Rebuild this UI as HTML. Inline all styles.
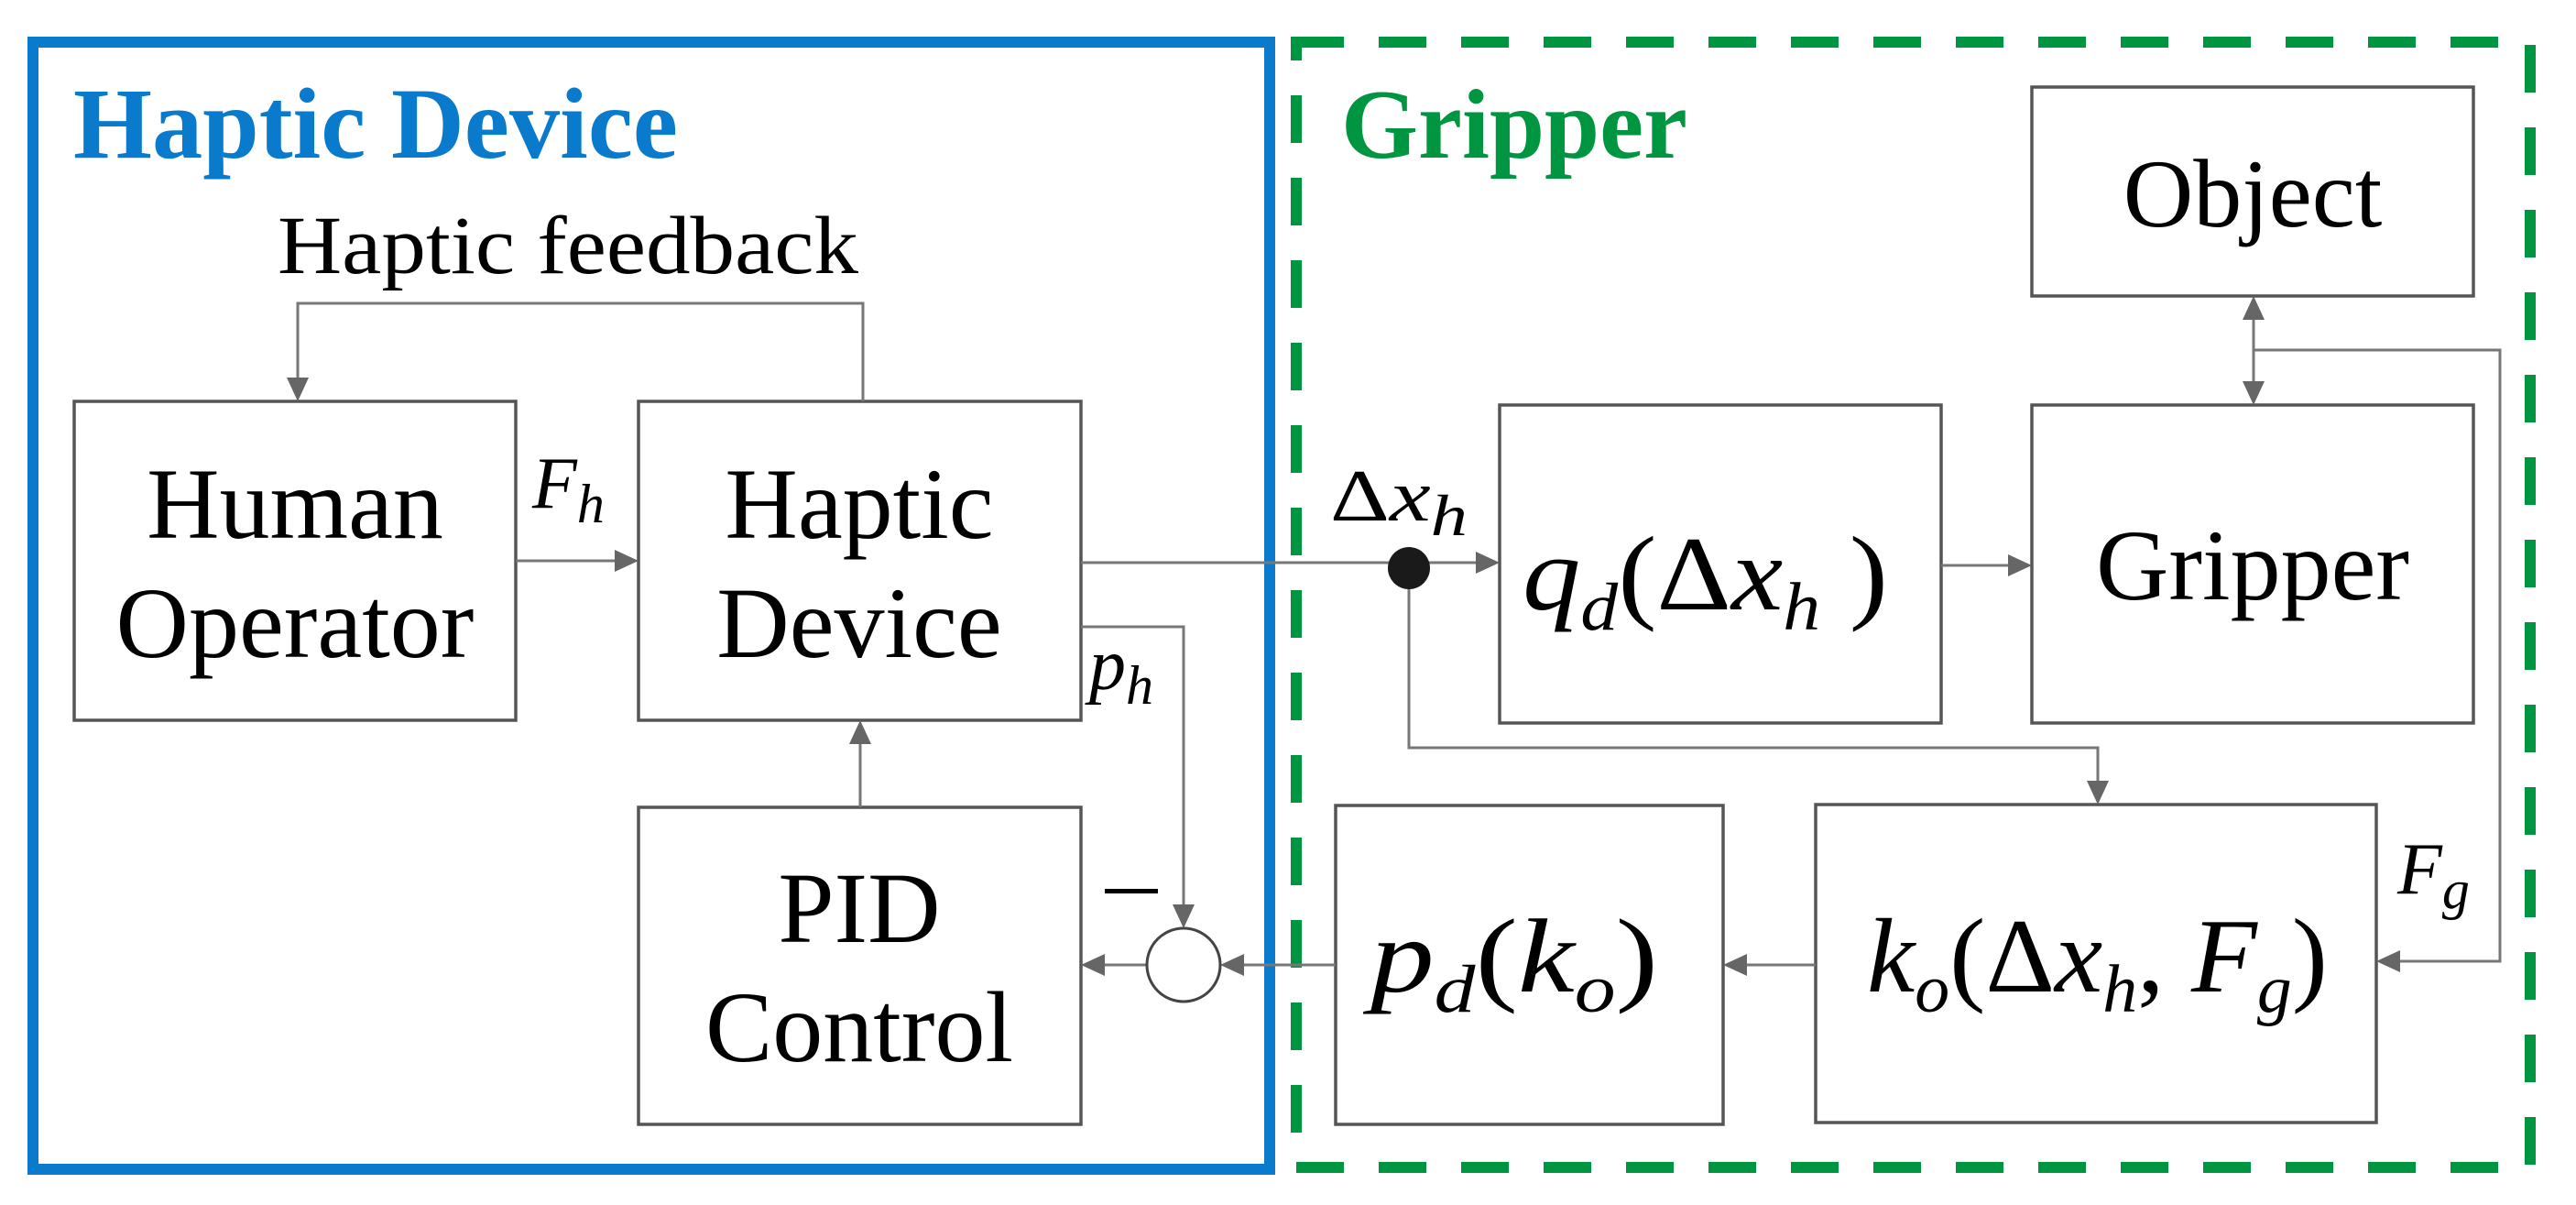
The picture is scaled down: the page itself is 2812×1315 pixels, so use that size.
<!DOCTYPE html>
<html><head><meta charset="utf-8"><style>
html,body{margin:0;padding:0;background:#fff;}
svg{display:block;}
.t{font-family:"Liberation Serif",serif;fill:#000;}
.m{font-family:"Liberation Serif",serif;font-style:italic;fill:#000;}
.b{fill:none;stroke:#555;stroke-width:3.5;}
.l{fill:none;stroke:#777;stroke-width:3;}
</style></head><body>
<svg width="2812" height="1315" viewBox="0 0 2812 1315" xmlns="http://www.w3.org/2000/svg">
<rect width="2812" height="1315" fill="#fff"/>
<rect x="36" y="46" width="1350" height="1230" fill="none" stroke="#0a7bcc" stroke-width="12"/>
<text x="80" y="172" font-family="Liberation Serif,serif" font-weight="bold" font-size="110" fill="#0a7bcc" textLength="660" lengthAdjust="spacingAndGlyphs">Haptic Device</text>
<rect x="1415" y="46" width="1347" height="1228" fill="none" stroke="#009540" stroke-width="12" stroke-dasharray="52 38"/>
<text x="1464" y="172" font-family="Liberation Serif,serif" font-weight="bold" font-size="108" fill="#009540" textLength="378" lengthAdjust="spacingAndGlyphs">Gripper</text>

<text class="t" x="303" y="298" font-size="90" textLength="634" lengthAdjust="spacingAndGlyphs">Haptic feedback</text>

<rect class="b" x="81" y="438" width="482" height="348"/>
<rect class="b" x="697" y="438" width="483" height="348"/>
<rect class="b" x="697" y="881" width="483" height="346"/>
<rect class="b" x="2218" y="95" width="482" height="228"/>
<rect class="b" x="2218" y="442" width="482" height="347"/>
<rect class="b" x="1637" y="442" width="482" height="347"/>
<rect class="b" x="1982" y="878" width="612" height="347"/>
<rect class="b" x="1458" y="879" width="423" height="348"/>

<text class="t" x="322" y="587" font-size="110" text-anchor="middle">Human</text>
<text class="t" x="322" y="717" font-size="110" text-anchor="middle">Operator</text>
<text class="t" x="938" y="587" font-size="110" text-anchor="middle">Haptic</text>
<text class="t" x="938" y="717" font-size="110" text-anchor="middle">Device</text>
<text class="t" x="938" y="1028" font-size="110" text-anchor="middle">PID</text>
<text class="t" x="938" y="1158" font-size="110" text-anchor="middle">Control</text>
<text class="t" x="2459" y="247" font-size="106" text-anchor="middle">Object</text>
<text class="t" x="2459" y="654" font-size="110" text-anchor="middle">Gripper</text>

<text class="m" x="1662" y="665" font-size="115" textLength="399" lengthAdjust="spacingAndGlyphs">q<tspan font-size="74" dy="22">d</tspan><tspan dy="-22" font-style="normal">(Δ</tspan>x<tspan font-size="74" dy="22">h</tspan><tspan dy="-22" font-style="normal"> )</tspan></text>
<text class="m" x="2038" y="1082" font-size="115" textLength="503" lengthAdjust="spacingAndGlyphs">k<tspan font-size="74" dy="22">o</tspan><tspan dy="-22" font-style="normal">(Δ</tspan>x<tspan font-size="74" dy="22">h</tspan><tspan dy="-22" font-style="normal">, </tspan>F<tspan font-size="74" dy="22">g</tspan><tspan dy="-22" font-style="normal">)</tspan></text>
<text class="m" x="1496" y="1082" font-size="115" textLength="314" lengthAdjust="spacingAndGlyphs">p<tspan font-size="74" dy="22">d</tspan><tspan dy="-22" font-style="normal">(</tspan>k<tspan font-size="74" dy="22">o</tspan><tspan dy="-22" font-style="normal">)</tspan></text>
<text class="m" x="581" y="554" font-size="80">F<tspan font-size="60" dy="16">h</tspan></text>
<text class="m" x="1189" y="752" font-size="80">p<tspan font-size="60" dy="16">h</tspan></text>
<text class="m" x="2617" y="975" font-size="80">F<tspan font-size="60" dy="16">g</tspan></text>
<text class="m" x="1452" y="568" font-size="80" textLength="150" lengthAdjust="spacingAndGlyphs"><tspan font-style="normal">Δ</tspan>x<tspan font-size="64" dy="16">h</tspan></text>
<rect x="1206" y="970" width="58" height="5" fill="#000"/>

<g class="l">
<polyline points="942,438 942,331 325,331 325,418"/>
<line x1="563" y1="612" x2="680" y2="612"/>
<line x1="1180" y1="614" x2="1538" y2="614"/>
<line x1="1538" y1="614" x2="1618" y2="614"/>
<polyline points="1180,684 1292,684 1292,993"/>
<line x1="939" y1="881" x2="939" y2="805"/>
<line x1="1252" y1="1053" x2="1200" y2="1053"/>
<line x1="1458" y1="1053" x2="1352" y2="1053"/>
<line x1="1982" y1="1053" x2="1900" y2="1053"/>
<line x1="2119" y1="617" x2="2200" y2="617"/>
<polyline points="1538,620 1538,816 2290,816 2290,860"/>
<line x1="2460" y1="343" x2="2460" y2="422"/>
<polyline points="2460,382 2729,382 2729,1049 2614,1049"/>
</g>
<g fill="#666">
<polygon points="325,438 313,412 337,412"/>
<polygon points="697,612 671,600 671,624"/>
<polygon points="1637,614 1611,602 1611,626"/>
<polygon points="1292,1013 1280,987 1304,987"/>
<polygon points="939,786 927,812 951,812"/>
<polygon points="1180,1053 1206,1041 1206,1065"/>
<polygon points="1332,1053 1358,1041 1358,1065"/>
<polygon points="1881,1053 1907,1041 1907,1065"/>
<polygon points="2218,617 2192,605 2192,629"/>
<polygon points="2290,878 2278,852 2302,852"/>
<polygon points="2460,323 2448,349 2472,349"/>
<polygon points="2460,442 2448,416 2472,416"/>
<polygon points="2594,1049 2620,1037 2620,1061"/>
</g>
<circle cx="1292" cy="1053" r="40" fill="#fff" stroke="#444" stroke-width="3"/>
<circle cx="1538" cy="620" r="23" fill="#1a1a1a"/>
</svg>
</body></html>
